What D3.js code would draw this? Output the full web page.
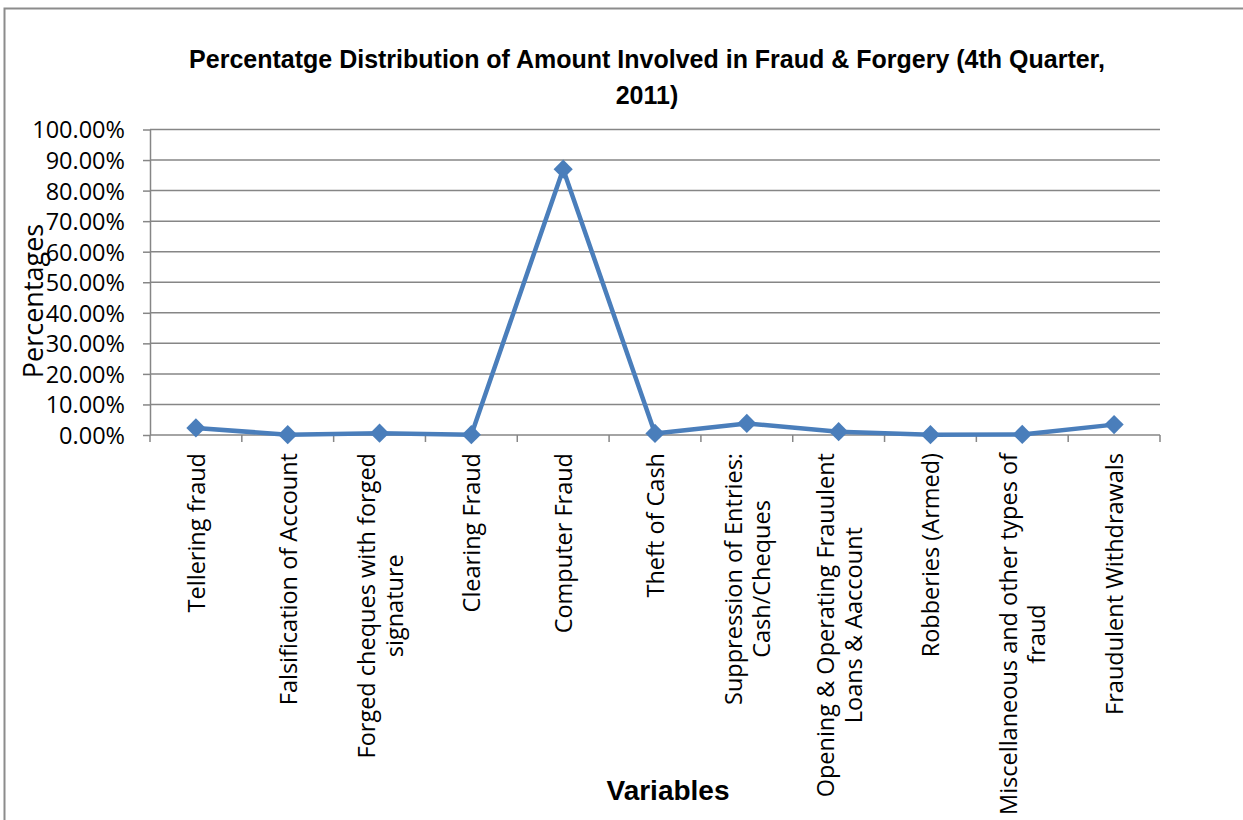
<!DOCTYPE html>
<html>
<head>
<meta charset="utf-8">
<script src="https://cdn.jsdelivr.net/npm/d3@7"></script>
<style>
  html, body { margin: 0; padding: 0; background: #fff; }
  svg { display: block; }
</style>
</head>
<body>
<svg id="chart" width="1243" height="820"></svg>
<script>
const categories = [
  ["Tellering fraud"],
  ["Falsification of Account"],
  ["Forged cheques with forged", "signature"],
  ["Clearing Fraud"],
  ["Computer Fraud"],
  ["Theft of Cash"],
  ["Suppression of Entries:", "Cash/Cheques"],
  ["Opening & Operating Frauulent", "Loans & Aaccount"],
  ["Robberies (Armed)"],
  ["Miscellaneous and other types of", "fraud"],
  ["Fraudulent Withdrawals"]
];
const values = [0.023, 0.001, 0.006, 0.001, 0.870, 0.005, 0.038, 0.011, 0.001, 0.002, 0.034];
const yTicks = [0, 0.1, 0.2, 0.3, 0.4, 0.5, 0.6, 0.7, 0.8, 0.9, 1.0];
const titleLines = ["Percentatge Distribution of Amount Involved in Fraud & Forgery (4th Quarter,", "2011)"];
const yTitle = "Percentages";
const xTitle = "Variables";

const svg = d3.select("#chart");
const W = 1243, H = 820;
const m = { left: 150, right: 1160, top: 129.5, bottom: 435 };
const boldFont = "'Liberation Sans Narrow', 'Arial Narrow', 'Liberation Sans', sans-serif";
const labelFont = "'Open Sans', sans-serif";

// outer frame
svg.append("path")
  .attr("d", `M4.5,${H + 5} L4.5,8.5 L${W + 5},8.5`)
  .attr("fill", "none").attr("stroke", "#8c8c8c").attr("stroke-width", 2);

const x = d3.scaleBand().domain(d3.range(categories.length)).range([m.left, m.right]).padding(0);
const y = d3.scaleLinear().domain([0, 1]).range([m.bottom, m.top]);

// gridlines
svg.append("g").selectAll("line").data(yTicks.slice(1)).join("line")
  .attr("x1", m.left).attr("x2", m.right)
  .attr("y1", d => y(d)).attr("y2", d => y(d))
  .attr("stroke", "#868686").attr("stroke-width", 1.5);

// y axis
const yAxis = svg.append("g").attr("transform", `translate(${m.left},0)`)
  .call(d3.axisLeft(y).tickValues(yTicks).tickFormat(d3.format(".2%")).tickSizeInner(7).tickSizeOuter(0).tickPadding(18));
yAxis.select(".domain").attr("stroke", "#868686").attr("stroke-width", 1.5);
yAxis.selectAll(".tick line").attr("stroke", "#868686").attr("stroke-width", 1.5);
yAxis.selectAll(".tick text")
  .attr("font-family", labelFont).attr("font-size", 23.5).attr("fill", "#000")
  .attr("dy", "0.36em");

// x axis line and ticks at band boundaries
const xAxis = svg.append("g");
xAxis.append("line").attr("x1", m.left).attr("x2", m.right).attr("y1", m.bottom).attr("y2", m.bottom)
  .attr("stroke", "#868686").attr("stroke-width", 1.5);
const bounds = d3.range(categories.length + 1).map(i => i < categories.length ? x(i) : m.right);
xAxis.selectAll("line.tk").data(bounds).join("line").attr("class", "tk")
  .attr("x1", d => d).attr("x2", d => d).attr("y1", m.bottom).attr("y2", m.bottom + 7)
  .attr("stroke", "#868686").attr("stroke-width", 1.5);

// category labels, rotated
const labelTop = 453;
const lineGap = 28;
categories.forEach((lines, i) => {
  const cx = x(i) + x.bandwidth() / 2;
  const g = svg.append("g");
  const n = lines.length;
  const texts = lines.map((t, j) => {
    const off = (j - (n - 1) / 2) * lineGap;
    return g.append("text")
      .attr("font-family", labelFont).attr("font-size", 23.5).attr("fill", "#000")
      .attr("text-anchor", "middle")
      .attr("dominant-baseline", "central")
      .attr("data-off", off)
      .text(t);
  });
  const maxLen = d3.max(texts, t => t.node().getComputedTextLength());
  texts.forEach(t => {
    const off = +t.attr("data-off");
    t.attr("transform", `translate(${cx + off},${labelTop + maxLen / 2}) rotate(-90)`);
  });
});

// line
const line = d3.line().x((d, i) => x(i) + x.bandwidth() / 2).y(d => y(d));
svg.append("path").datum(values)
  .attr("d", line).attr("fill", "none")
  .attr("stroke", "#4a7ebb").attr("stroke-width", 4.5).attr("stroke-linejoin", "round");

// diamond markers
const sym = d3.symbol().type(d3.symbolDiamond2).size(235);
svg.append("g").selectAll("path").data(values).join("path")
  .attr("d", sym)
  .attr("transform", (d, i) => `translate(${x(i) + x.bandwidth() / 2},${y(d)})`)
  .attr("fill", "#4a7ebb");

// title
svg.append("text")
  .attr("font-family", boldFont).attr("font-weight", "bold").attr("font-size", 25)
  .attr("text-anchor", "middle").attr("fill", "#000")
  .selectAll("tspan").data(titleLines).join("tspan")
  .attr("x", 647).attr("y", (d, i) => 68 + i * 36).text(d => d);

// y title
svg.append("text")
  .attr("transform", `translate(43,301) rotate(-90)`)
  .attr("font-family", labelFont).attr("font-size", 27).attr("fill", "#000")
  .attr("text-anchor", "middle").text(yTitle);

// x title
svg.append("text").attr("x", 668).attr("y", 800)
  .attr("font-family", boldFont).attr("font-weight", "bold").attr("font-size", 28)
  .attr("text-anchor", "middle").attr("fill", "#000").text(xTitle);
</script>
</body>
</html>
